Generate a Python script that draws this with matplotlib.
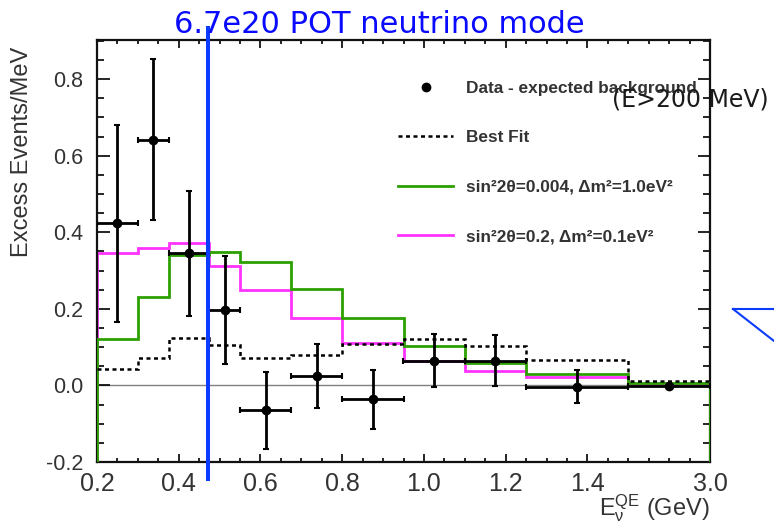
import numpy as np
import matplotlib
matplotlib.use("Agg")
import matplotlib.pyplot as plt
from matplotlib.lines import Line2D
from matplotlib.ticker import FixedLocator, MultipleLocator
import matplotlib.transforms as mtransforms

plt.rcParams['axes.unicode_minus'] = False
plt.rcParams['mathtext.fontset'] = 'custom'
plt.rcParams['mathtext.rm'] = 'Liberation Sans'
plt.rcParams['mathtext.it'] = 'Liberation Sans:italic'
plt.rcParams['mathtext.bf'] = 'Liberation Sans:bold'

# ---- data (E_nu^QE bins in GeV) ----
edges = [0.2, 0.3, 0.375, 0.475, 0.55, 0.675, 0.8, 0.95, 1.1, 1.25, 1.5, 3.0]
excess = [0.423, 0.642, 0.345, 0.197, -0.065, 0.025, -0.036, 0.065, 0.065, -0.003, -0.002]
excess_err = [0.258, 0.21, 0.163, 0.142, 0.1, 0.083, 0.077, 0.068, 0.067, 0.043, 0.005]
best_fit = [0.044, 0.072, 0.124, 0.106, 0.072, 0.080, 0.108, 0.121, 0.102, 0.067, 0.011]
osc_green = [0.12, 0.23, 0.341, 0.348, 0.323, 0.253, 0.175, 0.102, 0.059, 0.030, 0.005]
osc_magenta = [0.345, 0.359, 0.372, 0.312, 0.248, 0.175, 0.111, 0.065, 0.037, 0.021, 0.004]
xtick_vals = [0.2, 0.4, 0.6, 0.8, 1.0, 1.2, 1.4, 3.0]
xtick_labels = ['0.2', '0.4', '0.6', '0.8', '1.0', '1.2', '1.4', '3.0']
ytick_vals = [-0.2, 0.0, 0.2, 0.4, 0.6, 0.8]
ytick_labels = ['-0.2', '0.0', '0.2', '0.4', '0.6', '0.8']
cut_energy = 0.472

# compressed last bin (1.5-3.0 GeV drawn as 0.2 wide)
def fwd(x):
    x = np.asarray(x, dtype=float)
    return np.where(x <= 1.5, x, 1.5 + (x - 1.5) * (0.2 / 1.5))

def inv(y):
    y = np.asarray(y, dtype=float)
    return np.where(y <= 1.5, y, 1.5 + (y - 1.5) * 7.5)

e = np.array(edges)
centers = (e[:-1] + e[1:]) / 2
halfw = (e[1:] - e[:-1]) / 2

fig = plt.figure(figsize=(7.74, 5.25), dpi=100)
ax = fig.add_axes([97/774, 1-462/525, (710-97)/774, (462-40)/525])
ax.set_xscale('function', functions=(fwd, inv))
ax.set_xlim(0.2, 3.0)
ax.set_ylim(-0.2, 0.902)

ax.axhline(0, color='#808080', lw=1.0, zorder=1)

ax.stairs(osc_magenta, edges, baseline=-0.2, color='#ff33ff', lw=2.0, zorder=2)
ax.stairs(osc_green, edges, baseline=-0.2, color='#2ca000', lw=2.0, zorder=3)
ax.stairs(best_fit, edges, baseline=None, color='black', lw=1.8,
          linestyle=(0, (1.6, 1.4)), zorder=4)
ax.errorbar(centers, excess, yerr=excess_err, xerr=halfw, fmt='o', color='black',
            ms=6, lw=2.0, capsize=2.5, capthick=1.5, zorder=5)

# ticks
ax.set_xticks(xtick_vals)
ax.set_xticklabels(xtick_labels)
disp_minor = np.round(np.arange(0.25, 1.70, 0.05), 3)
disp_minor = [d for d in disp_minor if not np.isclose(d * 5, round(d * 5)) or d > 1.45]
ax.xaxis.set_minor_locator(FixedLocator(inv(np.array(disp_minor))))
ax.set_yticks(ytick_vals)
ax.set_yticklabels(ytick_labels)
ax.yaxis.set_minor_locator(MultipleLocator(0.05))

ax.tick_params(axis='both', which='both', direction='in', top=True, right=True,
               colors='black', width=1.2, labelcolor='#333333')
ax.tick_params(axis='x', which='major', length=5.5, pad=7, labelsize=18)
ax.tick_params(axis='x', which='minor', length=3.2)
ax.tick_params(axis='y', which='major', length=9, pad=10, labelsize=15.5)
ax.tick_params(axis='y', which='minor', length=5)
for lab in ax.get_xticklabels() + ax.get_yticklabels():
    lab.set_family('Liberation Sans')
for sp in ax.spines.values():
    sp.set_linewidth(1.6)
    sp.set_color('#111111')

# legend
handles = [
    Line2D([], [], marker='o', color='black', ls='none', ms=6),
    Line2D([], [], color='black', lw=1.8, ls=(0, (1.6, 1.4))),
    Line2D([], [], color='#2ca000', lw=2.0),
    Line2D([], [], color='#ff33ff', lw=2.0),
]
labels = ['Data - expected background', 'Best Fit',
          'sin\u00b22\u03b8=0.004, \u0394m\u00b2=1.0eV\u00b2',
          'sin\u00b22\u03b8=0.2, \u0394m\u00b2=0.1eV\u00b2']
leg = ax.legend(handles, labels, loc='upper left', bbox_to_anchor=(0.491, 0.903),
                frameon=False, borderpad=0, borderaxespad=0, handlelength=3.2,
                handletextpad=0.77, labelspacing=2.0,
                prop={'family': 'Liberation Sans', 'weight': 'bold', 'size': 12.4})
for t in leg.get_texts():
    t.set_color('#333333')

# axis labels
fig.text(22/774, 1-152/525, 'Excess Events/MeV', rotation=90, ha='center', va='center',
         fontsize=17, color='#333333', family='Liberation Sans')
fig.text(710/774, 1-515/525, r'$\mathrm{E_{\nu}^{QE}}$ (GeV)', ha='right', va='baseline',
         fontsize=17, color='#333333', family='Liberation Sans')

# overlays
fig.text(379/774, 1-33/525, '6.7e20 POT neutrino mode', ha='center', va='baseline',
         fontsize=22, color='#0a0aff', family='DejaVu Sans')
fig.text(612/774, 1-100/525, '(E>200 MeV)', ha='left', va='center',
         fontsize=17, color='#1a1a1a', family='DejaVu Sans')
trans = mtransforms.blended_transform_factory(ax.transData, fig.transFigure)
ax.add_line(Line2D([cut_energy, cut_energy], [1-28/525, 1-479/525], transform=trans,
                   color='#0a3cff', lw=2.9, clip_on=False, zorder=10))
fig.add_artist(Line2D([733/774, 1.0], [1-309/525, 1-309/525], transform=fig.transFigure,
                      color='#0a3cff', lw=1.5))
fig.add_artist(Line2D([733/774, 1.0], [1-309/525, 1-341/525], transform=fig.transFigure,
                      color='#0a3cff', lw=1.5))

fig.savefig('out.png', dpi=100)
